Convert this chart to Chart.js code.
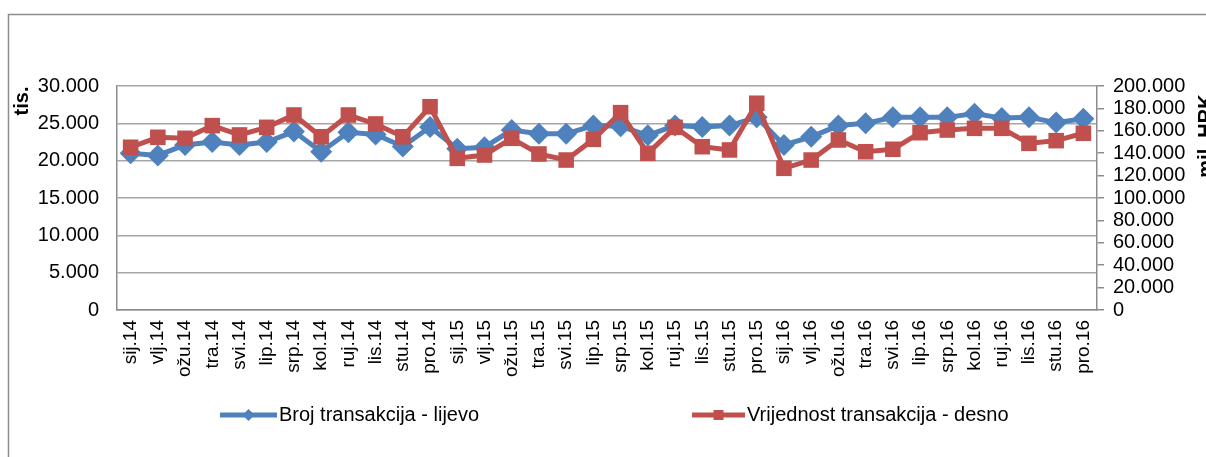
<!DOCTYPE html>
<html>
<head>
<meta charset="utf-8">
<script src="https://cdn.jsdelivr.net/npm/chart.js@4.4.1/dist/chart.umd.min.js"></script>
<style>
  html, body { margin: 0; padding: 0; background: #ffffff; overflow: hidden; }
  #wrap { position: relative; width: 1206px; height: 457px; }
</style>
</head>
<body>
<div id="wrap"><canvas id="c" width="1206" height="457"></canvas></div>
<script>
// ---- data ----
const categories = [
  'sij.14','vlj.14','ožu.14','tra.14','svi.14','lip.14','srp.14','kol.14','ruj.14','lis.14','stu.14','pro.14',
  'sij.15','vlj.15','ožu.15','tra.15','svi.15','lip.15','srp.15','kol.15','ruj.15','lis.15','stu.15','pro.15',
  'sij.16','vlj.16','ožu.16','tra.16','svi.16','lip.16','srp.16','kol.16','ruj.16','lis.16','stu.16','pro.16'
];
const brojTransakcija = [
  21000, 20700, 22100, 22500, 22100, 22500, 23900, 21200, 23800, 23500, 21900, 24500,
  21600, 21800, 24100, 23600, 23600, 24700, 24600, 23400, 24700, 24500, 24700, 25800,
  22100, 23200, 24700, 25000, 25800, 25800, 25800, 26300, 25700, 25800, 25100, 25600
];
const vrijednostTransakcija = [
  145300, 154200, 153300, 164600, 156300, 163100, 174100, 154700, 174100, 166100, 154700, 181500,
  135400, 138400, 153300, 139300, 133900, 152400, 176200, 139900, 163100, 145800, 142900, 184600,
  126500, 133900, 151800, 141300, 143500, 158300, 160700, 162200, 162200, 148800, 151200, 157800
];
const seriesLabels = ['Broj transakcija - lijevo', 'Vrijednost transakcija - desno'];
const leftTitle = 'tis.';
const rightTitle = 'mil. HRK';
const leftTicks = [0, 5000, 10000, 15000, 20000, 25000, 30000];
const rightTicks = [0, 20000, 40000, 60000, 80000, 100000, 120000, 140000, 160000, 180000, 200000];

const BLUE = '#4F81BD';
const RED = '#C0504D';
const GRID = '#a6a6a6';
const AXIS = '#8c8c8c';
const FONT = "'Liberation Sans', Arial, sans-serif";

function fmt(v) {
  return String(v).replace(/\B(?=(\d{3})+(?!\d))/g, '.');
}

const decorPlugin = {
  id: 'decor',
  beforeDraw(chart) {
    const ctx = chart.ctx;
    ctx.save();
    ctx.strokeStyle = '#8c8c8c';
    ctx.lineWidth = 1.5;
    ctx.beginPath();
    ctx.moveTo(8.5, 457);
    ctx.lineTo(8.5, 14.5);
    ctx.lineTo(1206, 14.5);
    ctx.stroke();
    ctx.restore();
  },
  afterDraw(chart) {
    const ctx = chart.ctx;
    ctx.save();
    ctx.fillStyle = '#000';
    ctx.font = 'bold 20px ' + FONT;
    ctx.textAlign = 'center';
    // left axis title
    ctx.save();
    ctx.translate(28, 101);
    ctx.rotate(-Math.PI / 2);
    ctx.textBaseline = 'alphabetic';
    ctx.fillText(leftTitle, 0, 0);
    ctx.restore();
    // right axis title
    ctx.save();
    ctx.translate(1212, 136);
    ctx.rotate(-Math.PI / 2);
    ctx.textBaseline = 'alphabetic';
    ctx.fillText(rightTitle, 0, 0);
    ctx.restore();

    // legend
    const items = [
      { ds: chart.data.datasets[0], x0: 220, x1: 277, tx: 279 },
      { ds: chart.data.datasets[1], x0: 692, x1: 745, tx: 747 }
    ];
    const ly = 415;
    items.forEach(it => {
      const col = it.ds.borderColor;
      ctx.strokeStyle = col;
      ctx.lineWidth = 5;
      ctx.lineCap = 'butt';
      ctx.beginPath();
      ctx.moveTo(it.x0, ly);
      ctx.lineTo(it.x1, ly);
      ctx.stroke();
      ctx.fillStyle = col;
      const cx = (it.x0 + it.x1) / 2;
      if (it.ds.pointStyle === 'rectRot') {
        ctx.beginPath();
        ctx.moveTo(cx - 6, ly);
        ctx.lineTo(cx, ly - 6);
        ctx.lineTo(cx + 6, ly);
        ctx.lineTo(cx, ly + 6);
        ctx.closePath();
        ctx.fill();
      } else {
        ctx.fillRect(cx - 5, ly - 5, 10, 10);
      }
      ctx.fillStyle = '#000';
      ctx.font = '20px ' + FONT;
      ctx.textAlign = 'left';
      ctx.textBaseline = 'middle';
      ctx.fillText(it.ds.label, it.tx, ly);
    });
    ctx.restore();
  }
};

new Chart(document.getElementById('c'), {
  type: 'line',
  data: {
    labels: categories,
    datasets: [
      {
        label: seriesLabels[0],
        data: brojTransakcija,
        yAxisID: 'y',
        borderColor: BLUE,
        backgroundColor: BLUE,
        borderWidth: 5,
        pointStyle: 'rectRot',
        pointRadius: 11,
        pointBorderWidth: 0,
        tension: 0,
        order: 1
      },
      {
        label: seriesLabels[1],
        data: vrijednostTransakcija,
        yAxisID: 'y1',
        borderColor: RED,
        backgroundColor: RED,
        borderWidth: 5,
        pointStyle: 'rect',
        pointRadius: 11,
        pointBorderWidth: 0,
        tension: 0,
        order: 0
      }
    ]
  },
  options: {
    responsive: false,
    devicePixelRatio: 1,
    animation: false,
    layout: { padding: { top: 86, left: 0, right: 0, bottom: 0 } },
    plugins: { legend: { display: false }, tooltip: { enabled: false } },
    scales: {
      x: {
        offset: true,
        grid: { display: true, drawOnChartArea: false, drawTicks: false },
        border: { display: true, color: AXIS, width: 1.5 },
        ticks: {
          autoSkip: false, minRotation: 90, maxRotation: 90,
          padding: 10, color: '#000', font: { family: FONT, size: 19 }
        },
        afterFit(s) { s.height = 147; }
      },
      y: {
        position: 'left',
        min: 0, max: 30000,
        afterBuildTicks(s) { s.ticks = leftTicks.map(v => ({ value: v })); },
        grid: { color: GRID, lineWidth: 1.5, drawTicks: false },
        border: { display: true, color: AXIS, width: 1.5 },
        ticks: {
          autoSkip: false,
          padding: 18, color: '#000', font: { family: FONT, size: 20 },
          callback: v => fmt(v)
        },
        afterFit(s) { s.width = 117; }
      },
      y1: {
        position: 'right',
        min: 0, max: 200000,
        afterBuildTicks(s) { s.ticks = rightTicks.map(v => ({ value: v })); },
        grid: { drawOnChartArea: false, color: AXIS, lineWidth: 1.5, tickLength: 7 },
        border: { display: true, color: AXIS, width: 1.5 },
        ticks: {
          autoSkip: false,
          padding: 9, color: '#000', font: { family: FONT, size: 20 },
          callback: v => fmt(v)
        },
        afterFit(s) { s.width = 109; }
      }
    }
  },
  plugins: [decorPlugin]
});
</script>
</body>
</html>
